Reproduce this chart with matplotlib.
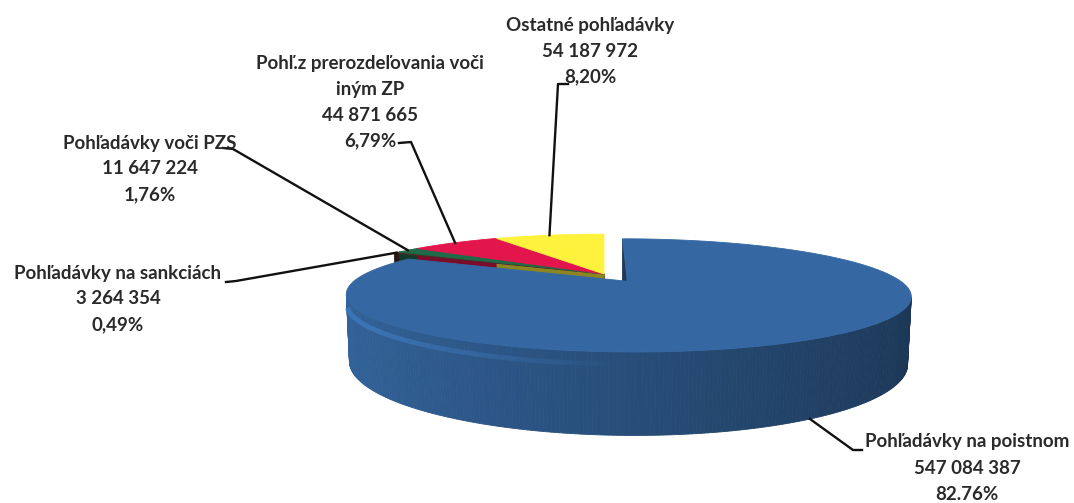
import numpy as np
import matplotlib.pyplot as plt
from matplotlib.patches import Polygon
from matplotlib.collections import LineCollection

plt.rcParams['font.family'] = ['Lato', 'DejaVu Sans']

# data (Excel order, slices go clockwise from 12 o'clock)
categories = ['Pohľadávky na poistnom', 'Pohľadávky na sankciách', 'Pohľadávky voči PZS',
              'Pohľ.z prerozdeľovania voči\niným ZP', 'Ostatné pohľadávky']
values = [547084387, 3264354, 11647224, 44871665, 54187972]
pct_text = ['82.76%', '0,49%', '1,76%', '6,79%', '8,20%']

# style / layout
top_colors = ['#3568a2', '#4d2b27', '#1f6a48', '#e2164c', '#fff23c']
explode = [0.165, 0, 0, 0, 0]
label_pos = [(967, 442), (118, 273), (150, 143), (370, 63), (590, 25)]
hooks = [((862, 450), (853, 450)), ((226, 282), (236, 281)), ((223, 148), (233, 149)),
         ((399, 143), (411, 142)), ((568, 84), (558, 84))]

# simple perspective camera for the 3d pie
D = 4.07
F = 1075.0
TILT = np.radians(10.8)
CX, CY = 604, 274
H = 0.24
cam = np.array([0, -D * np.cos(TILT), D * np.sin(TILT)])


def project(X, Y, Z):
    yc = Y * np.sin(TILT) + Z * np.cos(TILT)
    zc = Y * np.cos(TILT) - Z * np.sin(TILT) + D
    return CX + F * X / zc, CY - F * yc / zc


def shade(color, k):
    c = np.array(plt.matplotlib.colors.to_rgb(color))
    return tuple(np.clip(c * k, 0, 1))


fig = plt.figure(figsize=(10.74, 5.03), dpi=100)
ax = fig.add_axes([0, 0, 1, 1])
ax.set_xlim(0, 1074)
ax.set_ylim(503, 0)
ax.axis('off')

vals = np.array(values, dtype=float)
frac = vals / vals.sum()
ends = 90 - np.cumsum(frac) * 360
starts = np.concatenate([[90], ends[:-1]])

slices = []
for i in range(len(vals)):
    t1, t2 = np.radians(starts[i]), np.radians(ends[i])
    mid = (t1 + t2) / 2
    off = explode[i] * np.array([np.cos(mid), np.sin(mid)])
    slices.append((i, t1, t2, mid, off))


def draw_walls(i, t1, t2, mid, off):
    faces = []
    n = max(2, int(abs(np.degrees(t1 - t2)) * 1.5))
    th = np.linspace(t1, t2, n)
    for a, b in zip(th[:-1], th[1:]):
        m = (a + b) / 2
        nrm = np.array([np.cos(m), np.sin(m), 0])
        p = np.array([off[0] + np.cos(m), off[1] + np.sin(m), -H / 2])
        if np.dot(nrm, cam - p) <= 1e-9:
            continue
        pts = [(off[0] + np.cos(a), off[1] + np.sin(a), 0), (off[0] + np.cos(b), off[1] + np.sin(b), 0),
               (off[0] + np.cos(b), off[1] + np.sin(b), -H), (off[0] + np.cos(a), off[1] + np.sin(a), -H)]
        k = 0.74 - 0.22 * np.cos(m)
        faces.append((p[1], pts, shade(top_colors[i], k)))
    # radial cut faces
    for t, nrm in ((t1, np.array([-np.sin(t1), np.cos(t1), 0])),
                   (t2, np.array([np.sin(t2), -np.cos(t2), 0]))):
        p = np.array([off[0] + 0.5 * np.cos(t), off[1] + 0.5 * np.sin(t), -H / 2])
        if np.dot(nrm, cam - p) <= 1e-9:
            continue
        pts = [(off[0], off[1], 0), (off[0] + np.cos(t), off[1] + np.sin(t), 0),
               (off[0] + np.cos(t), off[1] + np.sin(t), -H), (off[0], off[1], -H)]
        faces.append((p[1] + 5, pts, shade(top_colors[i], 0.55)))
    for _, pts, col in sorted(faces, key=lambda f: -f[0]):
        xy = [project(*q) for q in pts]
        ax.add_patch(Polygon(xy, closed=True, fc=col, ec=col, lw=0.6))
    # soft bevel highlight just under the rim on the left/front side
    vis = [t for t in th if np.sin(t) < -0.28 and np.cos(t) < 0.15]
    if len(vis) > 2:
        pts = np.array([project(off[0] + np.cos(t), off[1] + np.sin(t), -0.035) for t in vis])
        segs = np.stack([pts[:-1], pts[1:]], axis=1)
        c = shade(top_colors[i], 1.25)
        w = np.array([np.clip(-np.cos(t), 0, 1) for t in vis[:-1]])
        lc = LineCollection(segs, colors=[(c[0], c[1], c[2], 0.75 * a) for a in w],
                            linewidths=3.5, capstyle='butt')
        ax.add_collection(lc)


def draw_top(i, t1, t2, mid, off):
    n = max(3, int(abs(np.degrees(t1 - t2)) * 1.5))
    th = np.linspace(t1, t2, n)
    xy = [project(off[0], off[1], 0)] + [project(off[0] + np.cos(t), off[1] + np.sin(t), 0) for t in th]
    ax.add_patch(Polygon(xy, closed=True, fc=top_colors[i], ec=top_colors[i], lw=0.6))


# far slices first, walls before tops within a depth group
groups = sorted(set(round(s[4][1], 6) for s in slices), reverse=True)
for g in groups:
    grp = [s for s in slices if round(s[4][1], 6) == g]
    for s in grp:
        draw_walls(*s)
    for s in grp:
        draw_top(*s)

# labels with leader lines
for i, t1, t2, mid, off in slices:
    x0, y0 = label_pos[i]
    lines = categories[i].split('\n') + ['{:,}'.format(values[i]).replace(',', ' '), pct_text[i]]
    for j, line in enumerate(lines):
        ax.text(x0, y0 + j * 26, line, ha='center', va='center', fontsize=13.5,
                fontweight='bold', color='#2a2a2a')
    z = -H if np.sin(mid) < 0 else 0
    ax_, ay_ = project(off[0] + np.cos(mid), off[1] + np.sin(mid), z)
    (hx0, hy0), (hx1, hy1) = hooks[i]
    ax.plot([hx0, hx1, ax_], [hy0, hy1, ay_], color='#111111', lw=1.7)

fig.savefig('out.png', dpi=100)
